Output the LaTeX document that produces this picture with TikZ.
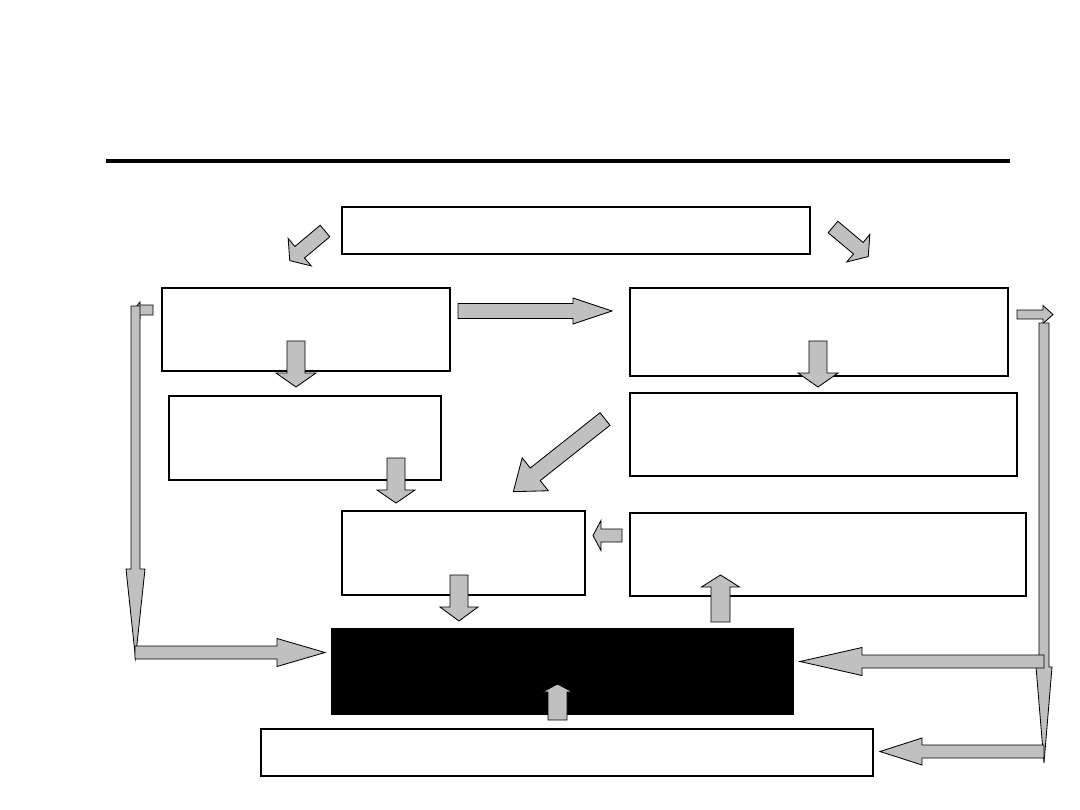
\documentclass[tikz,border=0pt]{standalone}
\usetikzlibrary{fit}
\definecolor{arrowgray}{RGB}{192,192,192}
\tikzset{
  box/.style={draw=black, line width=1.3pt, inner sep=0pt},
  blackbox/.style={draw=black, fill=black, line width=1.3pt, inner sep=0pt},
  arrowline/.style={draw=black, fill=arrowgray, line width=0.6pt, line join=miter},
  pics/barrow/.style n args={4}{code={
    \path[arrowline] (0,#2) -- ({#1-#4},#2) -- ({#1-#4},#3) -- (#1,0)
      -- ({#1-#4},-#3) -- ({#1-#4},-#2) -- (0,-#2) -- cycle;}}
}
\begin{document}
\begin{tikzpicture}[x=0.025cm, y=-0.025cm]
\useasboundingbox (0,0) rectangle (1080,810);
% rule
\draw[line width=2.8pt] (106,161) -- (1010,161);
% boxes
\node[box, fit={(342,207) (810,254)}] (top) {};
\node[box, fit={(162,288) (450,371)}] (l1) {};
\node[box, fit={(630,288) (1008,376)}] (r1) {};
\node[box, fit={(169,396) (441,480)}] (l2) {};
\node[box, fit={(630,393) (1017,476)}] (r2) {};
\node[box, fit={(342,511) (585,595)}] (mid) {};
\node[box, fit={(630,513) (1026,596)}] (r3) {};
\node[blackbox, fit={(332,629) (793,714)}] (res) {};
\node[box, fit={(261,729) (873,776)}] (bot) {};
% block arrows: {length}{shaft half}{head half}{head length}
\pic[rotate=220] at (325,231) {barrow={46}{7.5}{18}{13}};
\pic[rotate=-40] at (833,227) {barrow={46}{7.5}{18}{13}};
\pic[rotate=218.4] at (605,419) {barrow={117}{8}{21}{28}};
\pic at (458,311) {barrow={154}{7.5}{13}{39}};
\pic[rotate=-90] at (296,341) {barrow={46}{9}{20}{14}};
\pic[rotate=-90] at (818,341) {barrow={46}{9}{20}{14}};
\pic[rotate=-90] at (396,458) {barrow={45}{9}{19}{13}};
\pic[rotate=-90] at (459,575) {barrow={46}{9}{19}{14}};
\pic[rotate=90] at (720.5,622) {barrow={47}{9.5}{19}{12}};
\pic[rotate=90] at (557.5,720) {barrow={36}{9.5}{15}{8}};
\pic[rotate=180] at (622,535.5) {barrow={29}{6.5}{15}{8}};
% left loop
\pic[rotate=180] at (153,310) {barrow={19}{5}{8}{6}};
\pic[rotate=-90] at (135.5,306) {barrow={352}{4.5}{9.5}{89}};
\pic at (135,652.5) {barrow={190}{6.5}{14}{48}};
% right loop
\pic at (1017,314.5) {barrow={36}{4.5}{9}{10}};
\pic[rotate=-90] at (1044,323) {barrow={440}{5}{8}{96}};
\pic[rotate=180] at (1044,661.5) {barrow={244}{6.5}{14}{62}};
\pic[rotate=180] at (1044,751.5) {barrow={164}{6.5}{13.5}{42}};
\end{tikzpicture}
\end{document}
